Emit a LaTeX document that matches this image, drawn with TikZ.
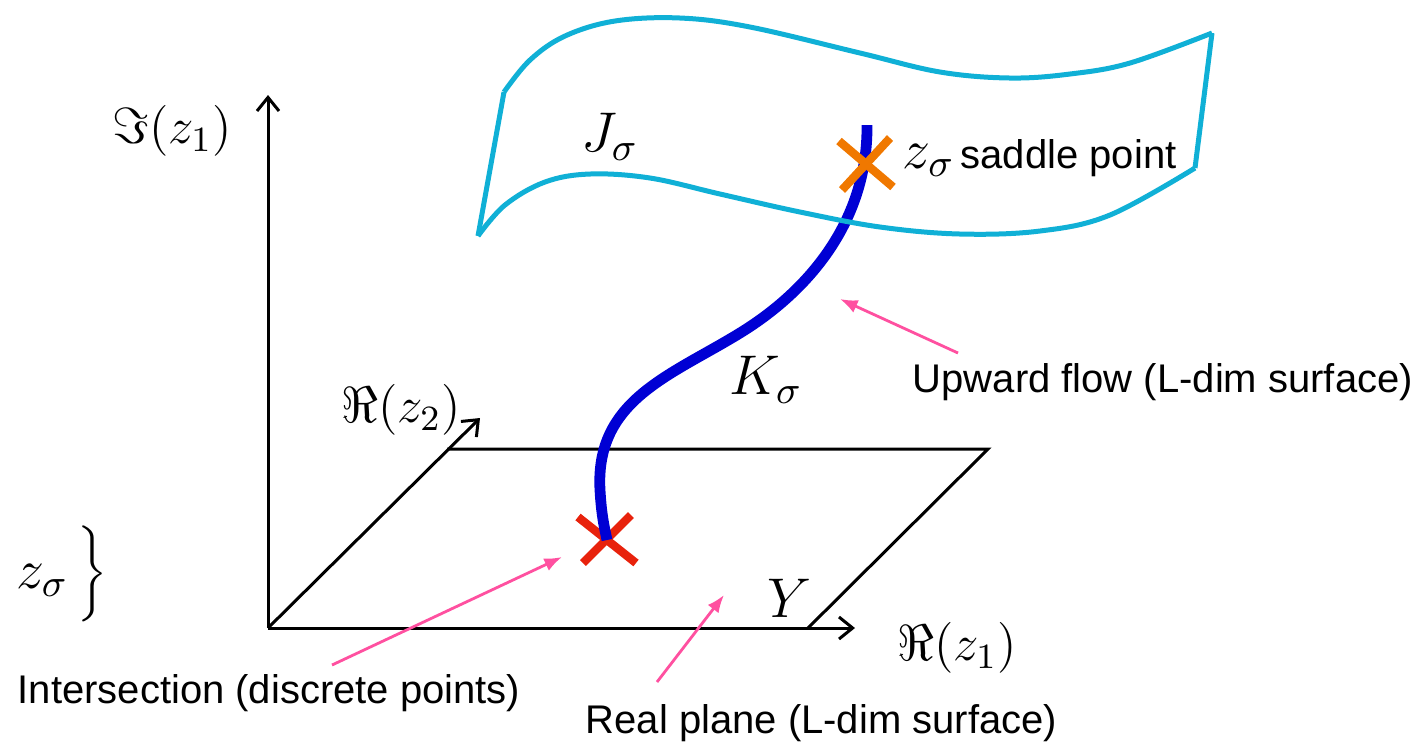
\RequirePackage{fix-cm}
\documentclass[tikz,border=0pt]{standalone}
\usepackage{fontspec}
\newfontfamily\labelsans{Liberation Sans}
\usetikzlibrary{arrows.meta}

\definecolor{surfcyan}{RGB}{16,176,214}
\definecolor{flowblue}{RGB}{0,0,212}
\definecolor{saddleorange}{RGB}{240,120,0}
\definecolor{crossred}{RGB}{232,34,12}
\definecolor{notepink}{RGB}{255,80,160}

\begin{document}
\begin{tikzpicture}[
    x=0.25pt, y=-0.25pt,
    axis/.style={line width=0.75pt, -{Straight Barb[length=3.4pt,width=5.5pt]}},
    edge/.style={line width=0.75pt},
    surf/.style={surfcyan, line width=1.25pt, line join=round},
    flow/.style={flowblue, line width=2.7pt},
    xmark/.style={line width=2.1pt},
    note/.style={font=\labelsans, inner sep=0pt},
    axlbl/.style={font=\fontsize{12.7}{15}\selectfont, inner sep=0pt},
    mathlbl/.style={font=\fontsize{14}{17}\selectfont, inner sep=0pt},
    pointer/.style={notepink, line width=0.7pt, -{Latex[length=4.4pt,width=3.4pt]}}
  ]
    \useasboundingbox (0,0) rectangle (1424,743);

    % axes and the real plane
    \coordinate (o) at (268,628);
    \draw[axis] (o) -- (268,95) coordinate (imtip);
    \draw[axis] (o) -- (855,628) coordinate (retip);
    \draw[axis] (o) -- (480,418) coordinate (re2tip);
    \draw[edge] (808,628) -- (988,449) -- (447,449);

    % intersection point
    \coordinate (ipt) at (607,540);
    \draw[xmark, crossred] (ipt) ++(-29,-23) -- ++(58,46);
    \draw[xmark, crossred] (ipt) ++(24,-25) -- ++(-48,48);

    % upward flow K
    \coordinate (kmid) at (740,333);
    \draw[flow] (867,125) .. controls (868,220) and (810,290) .. (kmid)
      .. controls (670,376) and (595,400) .. (600,490)
      .. controls (601.5,517) and (605,530) .. (ipt);

    % thimble surface J
    \draw[surf] plot[smooth, tension=0.6] coordinates {
      (504,92) (530,60) (565,36) (615,21) (680,18) (750,27) (860,53)
      (940,72) (1010,78) (1070,74) (1130,63) (1212,33)};
    \draw[surf] plot[smooth, tension=0.6] coordinates {
      (478,236) (505,205) (545,182) (590,174) (650,178) (720,194)
      (800,212) (880,227) (960,234) (1040,231) (1110,215) (1195,168)};
    \draw[surf] (504,92) -- (478,236);
    \draw[surf] (1212,33) -- (1195,168);

    % saddle point
    \coordinate (spt) at (866,164);
    \draw[xmark, saddleorange] (spt) ++(-27,-23) -- ++(54,46);
    \draw[xmark, saddleorange] (spt) ++(24,-26) -- ++(-48,52);

    % labels
    \node[axlbl] (imz1) at (172,131) {$\Im(z_1)$};
    \node[axlbl] (rez2) at (401,410) {$\Re(z_2)$};
    \node[axlbl] (rez1) at (957,648) {$\Re(z_1)$};
    \node[mathlbl] (jsig) at (610,137) {$J_\sigma$};
    \node[mathlbl] (ksig) at (766,380) {$K_\sigma$};
    \node[mathlbl] (ylbl) at (789,598) {$Y$};
    \node[mathlbl, anchor=base west] (saddle) at (902,168) {$z_\sigma$\kern1.5pt{\labelsans\normalsize saddle point}};
    \node[mathlbl] (zbrace) at (62,574) {$z_\sigma\,\bigg\}$};

    \node[note, anchor=base west] (upward) at (912,392) {Upward flow (L-dim surface)};
    \node[note, anchor=base west] (inter) at (17,703) {Intersection (discrete points)};
    \node[note, anchor=base west] (realpl) at (585,733) {Real plane (L-dim surface)};

    % pointers
    \coordinate (uptail) at (958,353);
    \coordinate (uphead) at (840,299);
    \coordinate (intail) at (332,665);
    \coordinate (inhead) at (562,557);
    \coordinate (rptail) at (657,682);
    \coordinate (rphead) at (724,595);
    \draw[pointer] (uptail) -- (uphead);
    \draw[pointer] (intail) -- (inhead);
    \draw[pointer] (rptail) -- (rphead);
\end{tikzpicture}
\end{document}
